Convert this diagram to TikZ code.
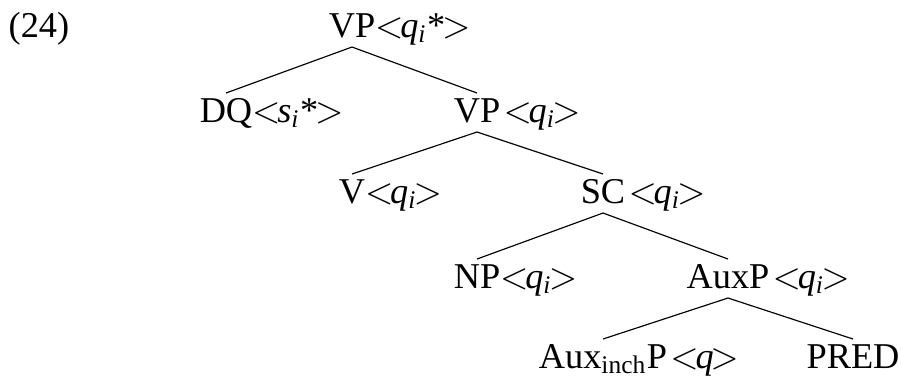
\documentclass[tikz,border=0pt]{standalone}
\usepackage{fontspec}
\setmainfont{Liberation Serif}
\usepackage{tikz}
\usetikzlibrary{positioning}
\tikzset{
  cat/.style={anchor=base,inner sep=0pt,outer sep=0.3pt,text height=8.4pt,text depth=2.7pt},
  edge/.style={draw=black,line width=0.35pt},
}
\newcommand{\feat}[1]{\rlap{#1}}
\newcommand{\lt}{${<}$\kern-1pt}
\newcommand{\gt}{\kern-1pt${>}$}
\newcommand{\qi}{\textit{q}\textsubscript{\textit{i}}}

\begin{document}
\begin{tikzpicture}[x=0.3pt,y=-0.3pt,every node/.style={font=\fontsize{10.9}{13}\selectfont}]
\useasboundingbox (0,0) rectangle (901,380);
\node[anchor=base west,inner sep=0pt] (ex) at (8,37) {(24)};
% tree, categories centred, features hang to the right
\node[cat] (vp1) at (352,37) {VP\feat{\lt\qi*\gt}};
\node[cat] (dq) at (226,122) {DQ\feat{\lt\textit{s}\textsubscript{\textit{i}}*\gt}};
\node[cat] (vp2) at (477,122) {VP\feat{\kern1pt\lt\qi\gt}};
\node[cat] (v) at (352,203) {V\feat{\lt\qi\gt}};
\node[cat] (sc) at (603,203) {SC\feat{\kern1pt\lt\qi\gt}};
\node[cat] (np) at (477,288) {NP\feat{\lt\qi\gt}};
\node[cat] (auxp) at (728,288) {AuxP\feat{\kern1pt\lt\qi\gt}};
\node[cat] (aux) at (603,368) {Aux\textsubscript{inch}P\feat{\kern1pt\lt\textit{q}\gt}};
\node[cat] (pred) at (853,368) {PRED};
\foreach \p/\c in {vp1/dq,vp1/vp2,vp2/v,vp2/sc,sc/np,sc/auxp,auxp/aux,auxp/pred}
  \draw[edge] (\p.south) -- (\c.north);
\end{tikzpicture}
\end{document}
